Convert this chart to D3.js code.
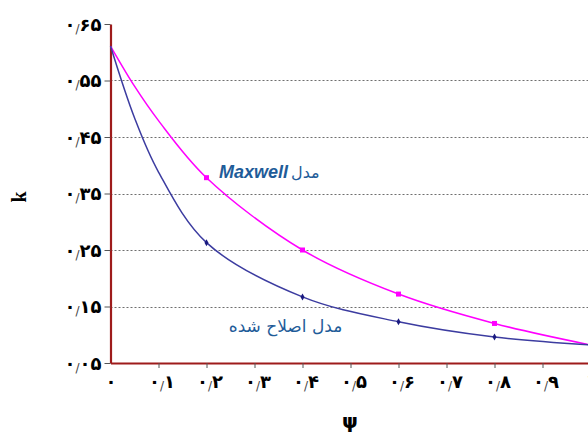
<!DOCTYPE html>
<html>
<head>
<meta charset="utf-8">
<script src="https://cdn.jsdelivr.net/npm/d3@7"></script>
<style>
    body { margin: 0; background: #ffffff; }
    svg { display: block; }
</style>
</head>
<body>
<svg class="chart" width="588" height="434"></svg>
<script>
// values
var psi = [0, 0.05, 0.1, 0.2, 0.4, 0.6, 0.8, 1];
var maxwellK = [0.611, 0.540, 0.479, 0.378, 0.250, 0.172, 0.120, 0.082];
var modifiedK = [0.611, 0.484, 0.388, 0.263, 0.167, 0.123, 0.096, 0.082];
var markerPsi = [0.2, 0.4, 0.6, 0.8];
var yTicks = [0.05, 0.15, 0.25, 0.35, 0.45, 0.55, 0.65];
var xTicks = [0, 0.1, 0.2, 0.3, 0.4, 0.5, 0.6, 0.7, 0.8, 0.9, 1];
var gridValues = [0.15, 0.25, 0.35, 0.45, 0.55];
var maxwellLabel = ["Maxwell", "مدل"];
var modifiedLabel = "مدل اصلاح شده";

window.onload = function(){

    var svg = d3.select("." + "chart");

    var x = d3.scaleLinear().domain([0, 1]).range([110.5, 590.5]);
    var y = d3.scaleLinear().domain([0.05, 0.65]).range([363, 24]);

    var faDigits = function(s){
        return s.replace(/[0-9]/g, function(d){ return String.fromCharCode(0x06F0 + (+d)); });
    };

    // persian number as "int / frac" with a thin slash between
    var writeTick = function(sel){
        sel.each(function(d){
            var t = d3.select(this).text("");
            var parts = String(+d.toFixed(2)).split(".");
            t.append("tspan").text(faDigits(parts[0]));
            if (parts.length > 1) {
                t.append("tspan")
                        .text("/")
                        .attr("font-weight", "normal")
                        .attr("font-size", "12px")
                        .attr("dy", "2")
                        .attr("fill", "#444444");
                t.append("tspan").attr("dy", "-2").text(faDigits(parts[1]));
            }
        });
    };

    svg.selectAll(".grid")
            .data(gridValues)
            .enter().append("line")
            .attr("x1", x(0))
            .attr("x2", 588)
            .attr("y1", function(d){ return Math.round(y(d)) + 0.5; })
            .attr("y2", function(d){ return Math.round(y(d)) + 0.5; })
            .attr("stroke", "#6e6e6e")
            .attr("stroke-width", 1)
            .attr("stroke-dasharray", "2,2");

    var yAxis = svg.append("g")
            .attr("transform", "translate(" + x(0) + ",0)")
            .call(d3.axisLeft(y).tickValues(yTicks).tickSize(6).tickSizeOuter(0).tickPadding(3));

    var xAxis = svg.append("g")
            .attr("transform", "translate(0," + y(0.05) + ")")
            .call(d3.axisBottom(x).tickValues(xTicks).tickSize(5).tickSizeOuter(0).tickPadding(6));

    [yAxis, xAxis].forEach(function(g){
        g.select(".domain").attr("stroke", "#9e1b1b").attr("stroke-width", 2.2);
        g.selectAll(".tick line").attr("stroke", "#555555");
        g.selectAll(".tick text")
                .attr("fill", "#000000")
                .attr("font-family", "DejaVu Sans")
                .attr("font-weight", "bold")
                .attr("font-size", "18px")
                .attr("direction", "ltr")
                .call(writeTick);
    });
    yAxis.selectAll(".tick text").attr("dy", "0.35em");
    xAxis.selectAll(".tick text").attr("dx", function(d){ return d > 0 && d < 1 ? "3px" : "0px"; }).attr("dy", "0.75em");
    xAxis.select(".tick line").remove();

    var line = d3.line()
            .x(function(d, i){ return x(psi[i]); })
            .y(function(d){ return y(d); })
            .curve(d3.curveCatmullRom.alpha(0.5));

    svg.append("path")
            .datum(maxwellK)
            .attr("d", line)
            .attr("fill", "none")
            .attr("stroke", "#ff00ff")
            .attr("stroke-width", 1.5);

    svg.append("path")
            .datum(modifiedK)
            .attr("d", line)
            .attr("fill", "none")
            .attr("stroke", "#3c3ca0")
            .attr("stroke-width", 1.5);

    svg.selectAll(".mx")
            .data(markerPsi)
            .enter().append("rect")
            .attr("x", function(p){ return x(p) - 2.5; })
            .attr("y", function(p){ return y(maxwellK[psi.indexOf(p)]) - 2.5; })
            .attr("width", 5)
            .attr("height", 5)
            .attr("fill", "#ff00ff");

    svg.selectAll(".md")
            .data(markerPsi)
            .enter().append("path")
            .attr("d", d3.symbol().type(d3.symbolDiamond).size(14))
            .attr("transform", function(p){ return "translate(" + x(p) + "," + y(modifiedK[psi.indexOf(p)]) + ")"; })
            .attr("fill", "#1a1a80");

    svg.append("text")
            .attr("x", 288)
            .attr("y", 178)
            .attr("text-anchor", "end")
            .text(maxwellLabel[0])
            .attr("font-family", "Liberation Sans")
            .attr("font-weight", "bold")
            .attr("font-style", "italic")
            .attr("font-size", "18px")
            .attr("fill", "#1f5c99");

    svg.append("text")
            .attr("x", 291)
            .attr("y", 178)
            .attr("text-anchor", "start")
            .attr("direction", "ltr")
            .text(maxwellLabel[1])
            .attr("font-family", "DejaVu Sans")
            .attr("font-size", "16px")
            .attr("fill", "#1f5c99");

    svg.append("text")
            .attr("x", 285.5)
            .attr("y", 332)
            .attr("text-anchor", "middle")
            .text(modifiedLabel)
            .attr("font-family", "DejaVu Sans")
            .attr("font-size", "17px")
            .attr("fill", "#1f5c99");

    svg.append("text")
            .attr("transform", "translate(26,197) rotate(-90)")
            .attr("text-anchor", "middle")
            .text("k")
            .attr("font-family", "Liberation Serif")
            .attr("font-weight", "bold")
            .attr("font-size", "20px")
            .attr("fill", "#000000");

    svg.append("text")
            .attr("x", 350)
            .attr("y", 428)
            .attr("text-anchor", "middle")
            .text("\u03C8")
            .attr("font-family", "DejaVu Sans")
            .attr("font-weight", "bold")
            .attr("font-size", "20px")
            .attr("fill", "#000000");
}
</script>
</body>
</html>
